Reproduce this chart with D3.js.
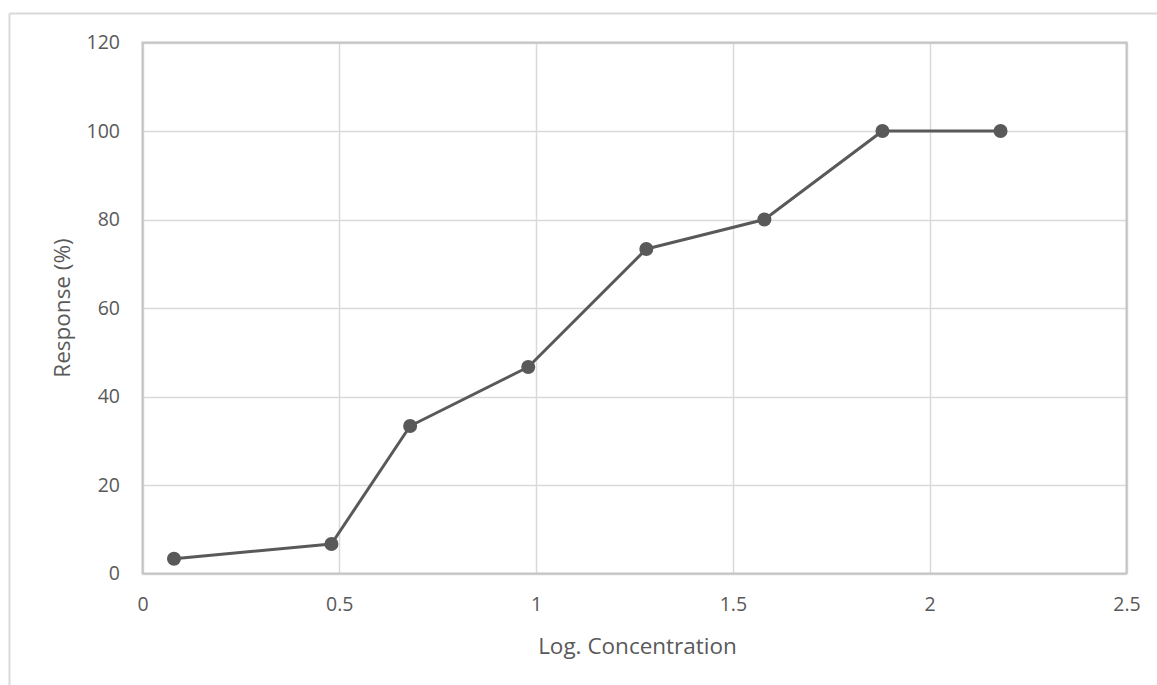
<!DOCTYPE html>
<html><head><meta charset="utf-8">
<script src="https://cdn.jsdelivr.net/npm/d3@7"></script>
<style>html,body{margin:0;padding:0;background:#fff;}svg{display:block;}</style>
</head><body><svg id="c" width="1157" height="685"></svg>
<script>
const logConc = [0.08, 0.48, 0.68, 0.98, 1.28, 1.58, 1.88, 2.18];
const response = [3.33, 6.67, 33.33, 46.67, 73.33, 80, 100, 100];
const xTicks = [0, 0.5, 1, 1.5, 2, 2.5];
const yTicks = [0, 20, 40, 60, 80, 100, 120];
const xTitle = "Log. Concentration";
const yTitle = "Response (%)";

const svg = d3.select("#c");
const font = "'Open Sans', sans-serif";
const m = {l: 142.5, r: 1126.5, t: 42.5, b: 573.5};
const x = d3.scaleLinear().domain([0, 2.5]).range([m.l, m.r]);
const y = d3.scaleLinear().domain([0, 120]).range([m.b, m.t]);

// outer chart border (top & left visible)
svg.append("line").attr("x1", 9.5).attr("x2", 1157).attr("y1", 13.5).attr("y2", 13.5).attr("stroke", "#d9d9d9").attr("stroke-width", 2);
svg.append("line").attr("x1", 9.5).attr("x2", 9.5).attr("y1", 13.5).attr("y2", 685).attr("stroke", "#d9d9d9").attr("stroke-width", 2);

// gridlines
const g = svg.append("g");
g.selectAll(".vg").data(xTicks).join("line")
  .attr("x1", d => Math.round(x(d)) + 0.5).attr("x2", d => Math.round(x(d)) + 0.5)
  .attr("y1", m.t).attr("y2", m.b).attr("stroke", "#d9d9d9").attr("stroke-width", 1.5);
g.selectAll(".hg").data(yTicks).join("line")
  .attr("y1", d => Math.round(y(d)) + 0.5).attr("y2", d => Math.round(y(d)) + 0.5)
  .attr("x1", m.l).attr("x2", m.r).attr("stroke", "#d9d9d9").attr("stroke-width", 1.5);
// plot border
svg.append("rect").attr("x", m.l).attr("y", m.t).attr("width", m.r - m.l).attr("height", m.b - m.t)
  .attr("fill", "none").attr("stroke", "#c4c4c4").attr("stroke-width", 2);

// axes via d3
const xAxis = svg.append("g").attr("transform", `translate(0,${m.b})`)
  .call(d3.axisBottom(x).tickValues(xTicks).tickFormat(d3.format("")).tickSize(0).tickPadding(24));
const yAxis = svg.append("g").attr("transform", `translate(${m.l},0)`)
  .call(d3.axisLeft(y).tickValues(yTicks).tickSize(0).tickPadding(22.5));
[xAxis, yAxis].forEach(a => {
  a.select(".domain").remove();
  a.selectAll("text").attr("fill", "#595959").style("font-family", font).style("font-size", "19.5px");
});

// titles
svg.append("text").attr("x", (m.l + m.r) / 2 + 3).attr("y", 654).attr("text-anchor", "middle")
  .attr("fill", "#595959").style("font-family", font).style("font-size", "22.5px").text(xTitle);
svg.append("text").attr("transform", `translate(69.5,${(m.t + m.b) / 2}) rotate(-90)`).attr("text-anchor", "middle")
  .attr("fill", "#595959").style("font-family", font).style("font-size", "22.5px").text(yTitle);

// series
const pts = logConc.map((v, i) => [v, response[i]]);
svg.append("path").datum(pts)
  .attr("d", d3.line().x(d => x(d[0])).y(d => y(d[1])))
  .attr("fill", "none").attr("stroke", "#595959").attr("stroke-width", 3).attr("stroke-linejoin", "round");
svg.selectAll(".pt").data(pts).join("circle")
  .attr("cx", d => x(d[0])).attr("cy", d => y(d[1])).attr("r", 7).attr("fill", "#595959");
</script></body></html>
